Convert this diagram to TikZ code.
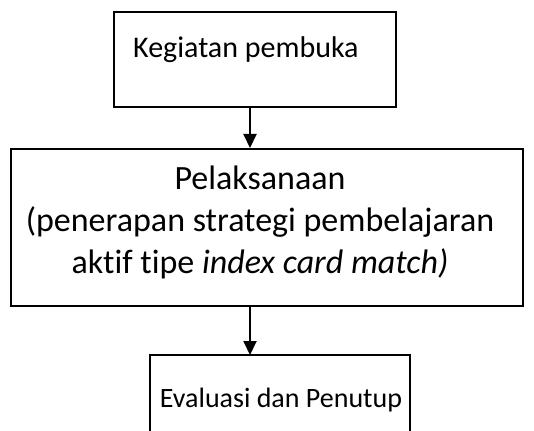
\documentclass[tikz,border=0pt]{standalone}
\usepackage{fontspec}
\setmainfont{Carlito}[Ligatures=NoCommon]
\usetikzlibrary{arrows.meta}
\begin{document}
\begin{tikzpicture}[x=1pt,y=-1pt,
  stage/.style={draw, line width=2pt, rectangle, inner sep=0pt, anchor=north west},
  caption/.style={align=center, inner sep=0pt},
  flow/.style={line width=2pt, -{Triangle[length=14pt,width=13pt]}}]
  \useasboundingbox (0,0) rectangle (534,430);

  % first stage
  \node[stage, minimum width=282pt, minimum height=95pt] (open) at (113,11) {};
  \node[caption, anchor=west, font=\fontsize{30}{42}\selectfont] (opentxt) at (133,50) {Kegiatan pembuka};

  % main stage
  \node[stage, minimum width=512pt, minimum height=157pt] (main) at (10,148) {};
  \node[caption, font=\fontsize{34}{42}\selectfont] (maintxt) at (260,222) {Pelaksanaan\\(penerapan strategi pembelajaran\\aktif tipe \textit{index card match)}};

  % closing stage, open at the bottom
  \node[inner sep=0pt, minimum width=260pt, minimum height=80pt, anchor=north west] (close) at (150,355) {};
  \draw[line width=2pt] (close.south west) -- (close.north west) -- (close.north east) -- (close.south east);
  \node[caption, font=\fontsize{28}{42}\selectfont] (closetxt) at (281,400) {Evaluasi dan Penutup};

  % connectors
  \draw[flow] (open.south -| 250,0) -- (main.north -| 250,0);
  \draw[flow] (main.south -| 250,0) -- (close.north -| 250,0);
\end{tikzpicture}
\end{document}
